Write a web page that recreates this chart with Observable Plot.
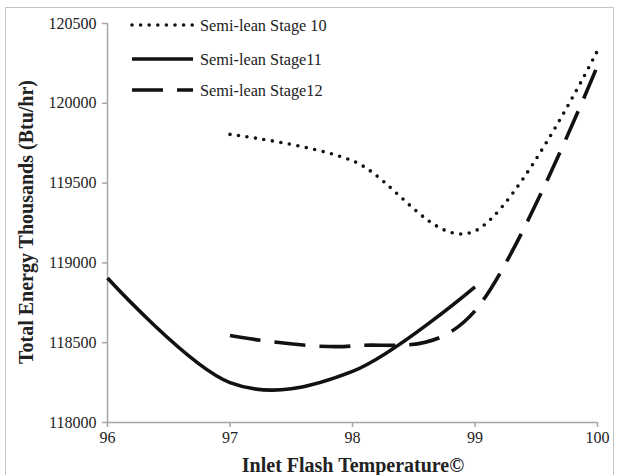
<!DOCTYPE html>
<html>
<head>
<meta charset="utf-8">
<script src="https://cdn.jsdelivr.net/npm/d3@7"></script>
<script src="https://cdn.jsdelivr.net/npm/@observablehq/plot@0.6"></script>
<style>
  html, body { margin: 0; padding: 0; background: #fff; overflow: hidden; }
  #wrap { position: relative; width: 619px; height: 475px; }
  #frame { position: absolute; left: 5px; top: 7px; width: 609px; height: 480px; border: 1.5px solid #c4c4c4; box-sizing: border-box; }
  #chart, #overlay { position: absolute; left: 0; top: 0; }
</style>
</head>
<body>
<div id="wrap">
  <div id="frame"></div>
  <div id="chart"></div>
  <svg id="overlay" width="619" height="475"></svg>
</div>
<script>
// Data
const seriesNames = ["Semi-lean Stage 10", "Semi-lean Stage11", "Semi-lean Stage12"];
const temps10 = [97, 98, 99, 100];
const energy10 = [119805, 119640, 119200, 120330];
const temps11 = [96, 97, 98, 99];
const energy11 = [118905, 118250, 118320, 118850];
const temps12 = [97, 98, 99, 100];
const energy12 = [118545, 118480, 118700, 120235];
const xTicks = [96, 97, 98, 99, 100];
const yTicks = [118000, 118500, 119000, 119500, 120000, 120500];

const toRows = (xs, ys) => xs.map((x, i) => ({x, y: ys[i]}));
const s10 = toRows(temps10, energy10);
const s11 = toRows(temps11, energy11);
const s12 = toRows(temps12, energy12);

const axisGrey = "#a6a6a6";
const styles = [
  {strokeDasharray: "0 8.6", strokeLinecap: "round", strokeWidth: 3.6},
  {strokeDasharray: null, strokeLinecap: "butt", strokeWidth: 3.6},
  {strokeDasharray: "31 14", strokeLinecap: "butt", strokeWidth: 3.6}
];

const lineOpts = (st) => ({
  x: "x", y: "y", stroke: "#111", curve: "cardinal", tension: 0,
  strokeWidth: st.strokeWidth, strokeDasharray: st.strokeDasharray, strokeLinecap: st.strokeLinecap
});

const plot = Plot.plot({
  width: 619,
  height: 475,
  marginLeft: 107,
  marginRight: 22,
  marginTop: 23,
  marginBottom: 53,
  style: {fontFamily: "'Liberation Serif', 'Times New Roman', serif", fontSize: "16px", background: "transparent", color: "#222"},
  x: {domain: [96, 100]},
  y: {domain: [118000, 120500]},
  marks: [
    Plot.ruleY([118000], {stroke: axisGrey, strokeWidth: 1.5}),
    Plot.ruleX([96], {stroke: axisGrey, strokeWidth: 1.5}),
    Plot.axisX({ticks: xTicks, tickSize: 5, tickPadding: 4, stroke: axisGrey, fill: "#222", tickFormat: d => String(d), label: null, strokeWidth: 1.5}),
    Plot.axisY({ticks: yTicks, tickSize: 5, tickPadding: 6, stroke: axisGrey, fill: "#222", tickFormat: d => String(d), label: null, strokeWidth: 1.5}),
    Plot.line(s10, lineOpts(styles[0])),
    Plot.line(s11, lineOpts(styles[1])),
    Plot.line(s12, lineOpts(styles[2]))
  ]
});
document.getElementById("chart").appendChild(plot);

// Titles and legend overlay
const svg = d3.select("#overlay");
const serif = "'Liberation Serif', 'Times New Roman', serif";
svg.append("text")
  .attr("x", 353).attr("y", 472)
  .attr("text-anchor", "middle")
  .attr("font-family", serif).attr("font-weight", "bold").attr("font-size", 20)
  .attr("fill", "#222")
  .text("Inlet Flash Temperature©");
svg.append("text")
  .attr("transform", "translate(33,222) rotate(-90)")
  .attr("text-anchor", "middle")
  .attr("font-family", serif).attr("font-weight", "bold").attr("font-size", 20)
  .attr("fill", "#222")
  .text("Total Energy Thousands (Btu/hr)");

const legendRows = [25, 59, 90];
seriesNames.forEach((name, i) => {
  const st = styles[i];
  const g = svg.append("g");
  const ln = g.append("line")
    .attr("x1", 132).attr("x2", 193).attr("y1", legendRows[i]).attr("y2", legendRows[i])
    .attr("stroke", "#111").attr("stroke-width", st.strokeWidth)
    .attr("stroke-linecap", st.strokeLinecap);
  if (st.strokeDasharray) ln.attr("stroke-dasharray", st.strokeDasharray);
  g.append("text")
    .attr("x", 200).attr("y", legendRows[i]).attr("dy", "0.35em")
    .attr("font-family", serif).attr("font-size", 16.3).attr("fill", "#222")
    .text(name);
});
</script>
</body>
</html>
